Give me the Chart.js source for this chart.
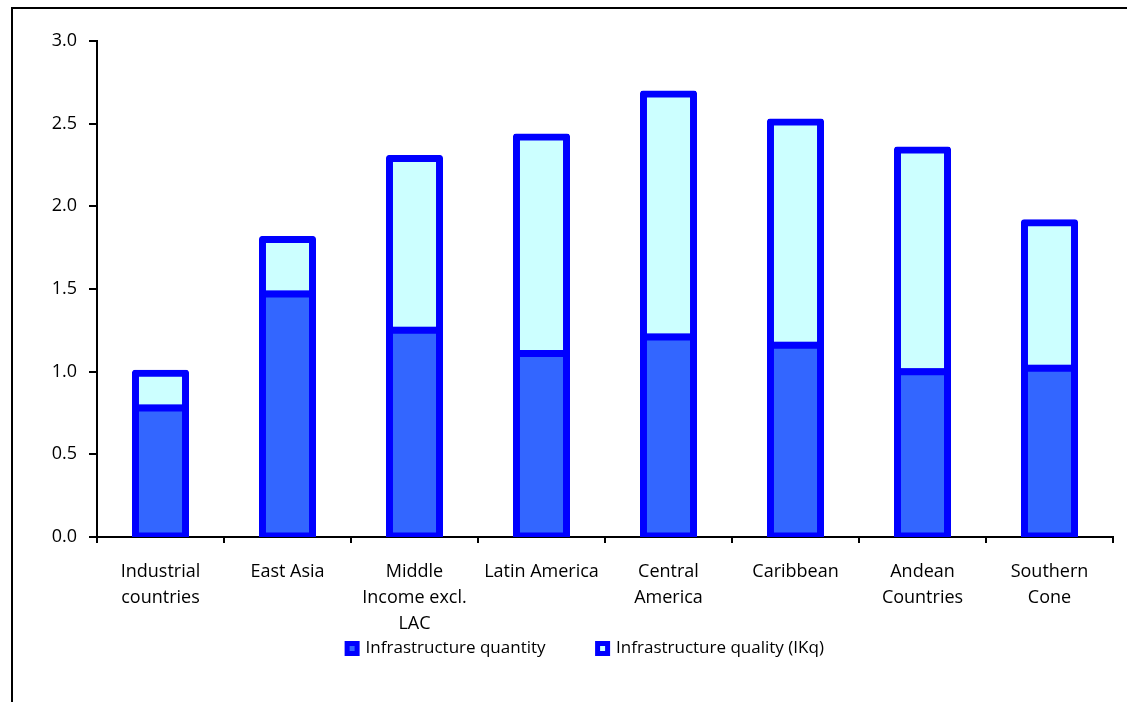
<!DOCTYPE html>
<html>
<head>
<meta charset="utf-8">
<title>Infrastructure quantity and quality</title>
<script src="https://cdn.jsdelivr.net/npm/chart.js@4.4.1/dist/chart.umd.min.js"></script>
<style>
  html, body { margin: 0; padding: 0; background: #ffffff; }
  #wrap { width: 1127px; height: 702px; position: relative; }
</style>
</head>
<body>
<div id="wrap"><canvas id="chart" width="1127" height="702"></canvas></div>
<script>
// Regions (multi-line labels as drawn under the axis)
const categories = [
  ["Industrial", "countries"],
  ["East Asia"],
  ["Middle", "Income excl.", "LAC"],
  ["Latin America"],
  ["Central", "America"],
  ["Caribbean"],
  ["Andean", "Countries"],
  ["Southern", "Cone"]
];

// Stock of infrastructure: quantity component
const quantityValues = [0.78, 1.47, 1.25, 1.11, 1.21, 1.16, 1.00, 1.02];
// Additional stock once quality is accounted for (stacked on top)
const qualityValues  = [0.21, 0.33, 1.04, 1.31, 1.47, 1.35, 1.34, 0.88];

// Value-axis ticks
const yTicks = [0.0, 0.5, 1.0, 1.5, 2.0, 2.5, 3.0];

const seriesNames = ["Infrastructure quantity", "Infrastructure quality (IKq)"];

Chart.defaults.color = "#000000";
Chart.defaults.font.family = "'Open Sans', Lato, sans-serif";

// Outer frame around the figure (left and top rules)
const framePlugin = {
  id: "frame",
  afterDraw(chart) {
    const ctx = chart.ctx;
    ctx.save();
    ctx.strokeStyle = "#000000";
    ctx.lineWidth = 2;
    ctx.beginPath();
    ctx.moveTo(12, chart.height);
    ctx.lineTo(12, 8);
    ctx.lineTo(chart.width, 8);
    ctx.stroke();
    ctx.restore();
  }
};

// Place the legend row: a little right of centre, closer to the axis labels
const legendShift = {
  id: "legendShift",
  afterLayout(chart) {
    const lg = chart.legend;
    if (lg) {
      lg.left += 29;
      lg.right += 29;
      lg.top -= 41;
      lg.height = lg.bottom - lg.top;
    }
  }
};

const barShared = {
  borderColor: "#0000FF",
  borderWidth: 7,
  borderSkipped: false,
  inflateAmount: 3.5,
  clip: 0,
  categoryPercentage: 1.0,
  barPercentage: 0.394
};

new Chart(document.getElementById("chart"), {
  type: "bar",
  data: {
    labels: categories,
    datasets: [
      Object.assign({
        label: seriesNames[0],
        data: quantityValues,
        backgroundColor: "#3366FF"
      }, barShared),
      Object.assign({
        label: seriesNames[1],
        data: qualityValues,
        backgroundColor: "#CCFFFF",
        borderRadius: { topLeft: 3, topRight: 3, bottomLeft: 0, bottomRight: 0 }
      }, barShared)
    ]
  },
  options: {
    responsive: false,
    animation: false,
    layout: { padding: { top: 41, right: 14, bottom: 35, left: 0 } },
    plugins: {
      legend: {
        position: "bottom",
        maxHeight: 38,
        labels: {
          color: "#000000",
          font: { size: 17 },
          boxWidth: 10,
          boxHeight: 10,
          padding: 52,
          generateLabels(chart) {
            const items = Chart.defaults.plugins.legend.labels.generateLabels(chart);
            items.forEach(it => { it.lineWidth = 5; });
            return items;
          }
        }
      },
      tooltip: { enabled: false }
    },
    scales: {
      x: {
        stacked: true,
        border: { display: true, color: "#000000", width: 2 },
        grid: {
          display: true,
          offset: true,
          drawOnChartArea: false,
          drawTicks: true,
          tickLength: 6,
          color: "#000000",
          lineWidth: 2
        },
        ticks: {
          color: "#000000",
          font: { size: 18, lineHeight: 1.44 },
          padding: 16,
          maxRotation: 0,
          minRotation: 0,
          autoSkip: false
        },
        afterFit(scale) { scale.height = 92; }
      },
      y: {
        stacked: true,
        min: yTicks[0],
        max: yTicks[yTicks.length - 1],
        border: { display: true, color: "#000000", width: 2 },
        grid: {
          display: true,
          drawOnChartArea: false,
          drawTicks: true,
          tickLength: 8,
          color: "#000000",
          lineWidth: 2
        },
        afterBuildTicks(scale) {
          scale.ticks = yTicks.map(v => ({ value: v }));
        },
        ticks: {
          color: "#000000",
          font: { size: 18 },
          padding: 12,
          callback: v => Number(v).toFixed(1)
        },
        afterFit(scale) { scale.width = 97; }
      }
    }
  },
  plugins: [framePlugin, legendShift]
});
</script>
</body>
</html>
